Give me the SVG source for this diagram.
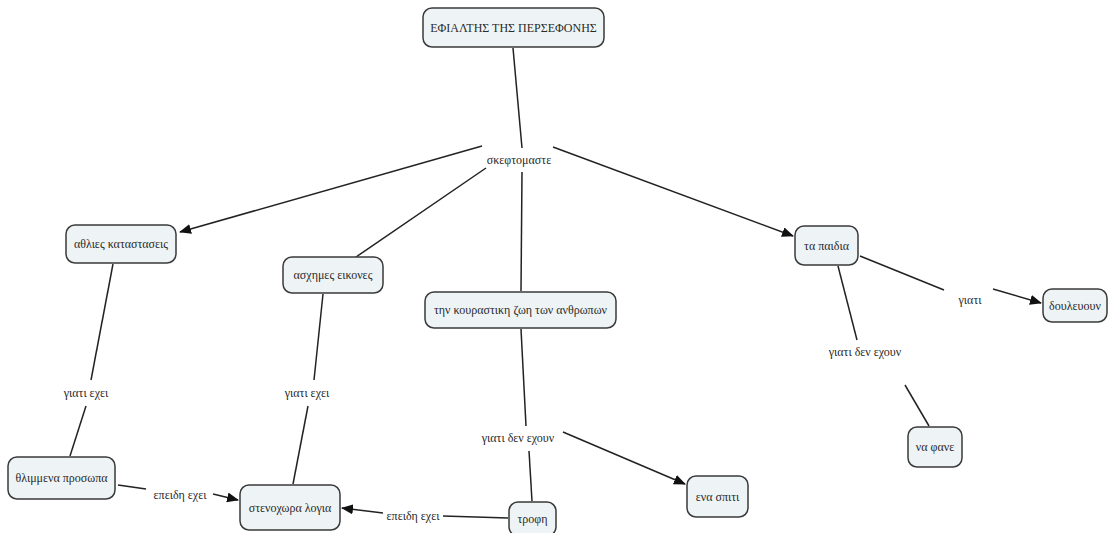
<svg xmlns="http://www.w3.org/2000/svg" width="1109" height="533" viewBox="0 0 1109 533">
  <style>
    .node rect { fill: #eef4f6; stroke: #3a3a3a; stroke-width: 1.5; }
    text { font-family: "Liberation Serif", "Times New Roman", serif; font-size: 12px; fill: #2a2a2a; text-anchor: middle; dominant-baseline: central; }
    .links line { stroke: #222; stroke-width: 1.5; fill: none; }
    .links .arr { marker-end: url(#head); }
  </style>
  <defs>
    <marker id="head" viewBox="0 0 12 10" refX="11" refY="5" markerWidth="12" markerHeight="10" markerUnits="userSpaceOnUse" orient="auto">
      <path d="M0,0 L12,5 L0,10 Z" fill="#111"/>
    </marker>
  </defs>
  <rect width="1109" height="533" fill="#ffffff"/>

  <!-- connectors and linking phrases -->
  <g id="connectors" class="links">
    <line x1="513" y1="48" x2="522" y2="148"/>
    <line class="arr" x1="482" y1="146" x2="180" y2="232"/>
    <line x1="486" y1="168" x2="356" y2="257"/>
    <line x1="522" y1="172" x2="521" y2="291"/>
    <line class="arr" x1="553" y1="147" x2="793" y2="236"/>
    <line x1="113" y1="264" x2="91" y2="380"/>
    <line x1="86" y1="406" x2="70" y2="456"/>
    <line x1="323" y1="294" x2="314" y2="380"/>
    <line x1="308" y1="406" x2="293" y2="484"/>
    <line x1="521" y1="329" x2="526" y2="426"/>
    <line x1="529" y1="451" x2="532" y2="501"/>
    <line class="arr" x1="563" y1="432" x2="685" y2="484"/>
    <line x1="508" y1="518" x2="443" y2="516"/>
    <line class="arr" x1="383" y1="513" x2="342" y2="508"/>
    <line x1="118" y1="485" x2="146" y2="489"/>
    <line class="arr" x1="213" y1="494" x2="238" y2="500"/>
    <line x1="860" y1="256" x2="944" y2="290"/>
    <line class="arr" x1="993" y1="289" x2="1041" y2="303"/>
    <line x1="838" y1="266" x2="857" y2="340"/>
    <line x1="905" y1="385" x2="929" y2="426"/>
  </g>
  <g id="phrases">
    <text x="519" y="160">σκεφτομαστε</text>
    <text x="86" y="393">γιατι εχει</text>
    <text x="307" y="393">γιατι εχει</text>
    <text x="518" y="438">γιατι δεν εχουν</text>
    <text x="970" y="300">γιατι</text>
    <text x="865" y="352">γιατι δεν εχουν</text>
    <text x="180" y="495">επειδη εχει</text>
    <text x="413" y="516">επειδη εχει</text>
  </g>

  <!-- concept nodes -->
  <g id="n-efialtis" class="node"><rect x="423" y="8" width="181" height="39" rx="9"/><text x="513.5" y="28">ΕΦΙΑΛΤΗΣ ΤΗΣ ΠΕΡΣΕΦΟΝΗΣ</text></g>
  <g id="n-athlies" class="node"><rect x="66" y="225" width="110" height="38" rx="9"/><text x="121" y="244">αθλιες καταστασεις</text></g>
  <g id="n-asximes" class="node"><rect x="283" y="257" width="100" height="36" rx="9"/><text x="333" y="275">ασχημες εικονες</text></g>
  <g id="n-kourastiki" class="node"><rect x="425" y="292" width="191" height="36" rx="9"/><text x="520.5" y="310">την κουραστικη ζωη των ανθρωπων</text></g>
  <g id="n-paidia" class="node"><rect x="795" y="226" width="63" height="39" rx="9"/><text x="826.5" y="246">τα παιδια</text></g>
  <g id="n-douleyoun" class="node"><rect x="1043" y="289" width="64" height="33" rx="9"/><text x="1075" y="306">δουλευουν</text></g>
  <g id="n-thlimmena" class="node"><rect x="8" y="457" width="107" height="42" rx="9"/><text x="61.5" y="478">θλιμμενα προσωπα</text></g>
  <g id="n-stenoxwra" class="node"><rect x="240" y="485" width="100" height="45" rx="9"/><text x="290" y="508">στενοχωρα λογια</text></g>
  <g id="n-trofi" class="node"><rect x="509" y="502" width="47" height="34" rx="9"/><text x="532.5" y="519">τροφη</text></g>
  <g id="n-spiti" class="node"><rect x="687" y="476" width="61" height="41" rx="9"/><text x="717.5" y="497">ενα σπιτι</text></g>
  <g id="n-fane" class="node"><rect x="908" y="427" width="54" height="40" rx="9"/><text x="935" y="447">να φανε</text></g>
</svg>
